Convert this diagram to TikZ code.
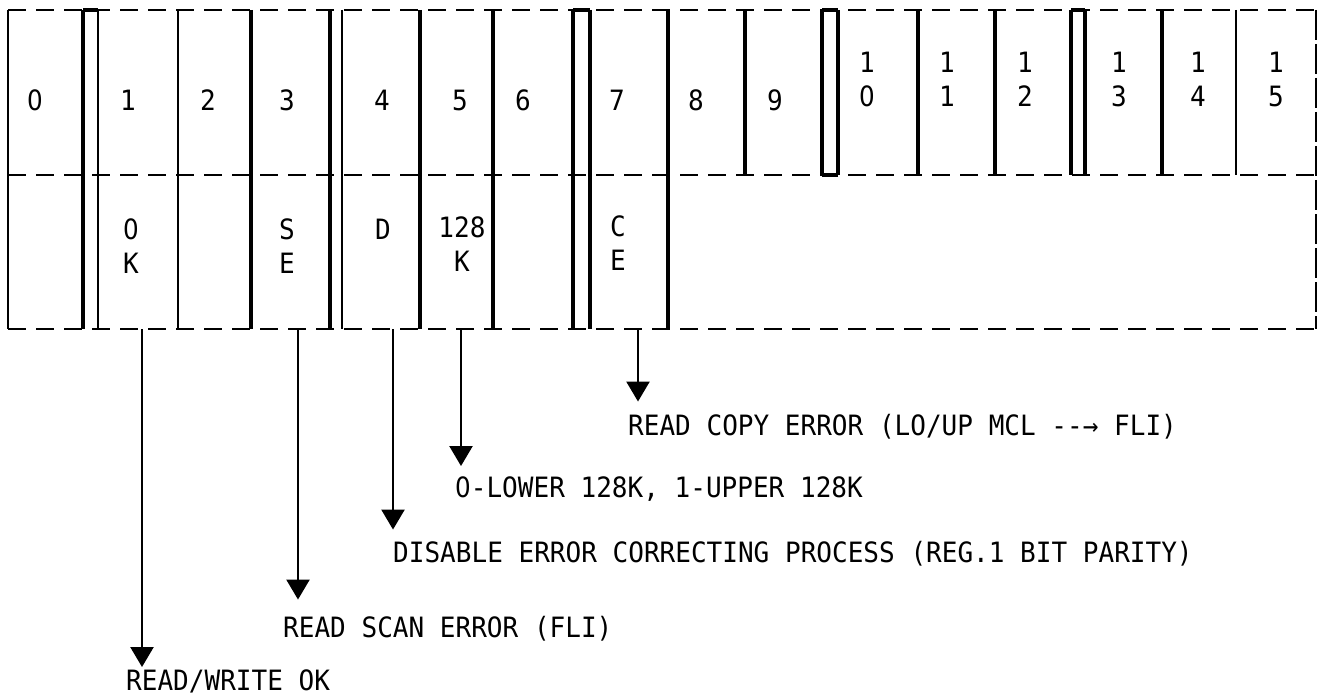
\documentclass[tikz,border=0pt]{standalone}
\usepackage{fontspec}
\newfontfamily\regfont[FakeStretch=0.93]{DejaVu Sans Mono}
\newfontfamily\zerofont[FakeStretch=0.88]{DejaVu Sans}
\newcommand\zro{{\zerofont 0}}
\usetikzlibrary{arrows.meta,positioning}

\begin{document}
\begin{tikzpicture}[x=1pt, y=-1pt,
    bitlbl/.style={font={\regfont\fontsize{28}{34}\selectfont}, inner sep=0pt, align=center},
    desc/.style={font={\regfont\fontsize{28}{34}\selectfont}, inner sep=0pt, anchor=base west},
    septhick/.style={line width=3.2pt},
    septhin/.style={line width=1.8pt},
    dashln/.style={line width=2.8pt, dash pattern=on 18pt off 10pt},
    bitarrow/.style={line width=2.4pt, -{Triangle[width=23pt,length=20pt]}}]
    \useasboundingbox (0,0) rectangle (1323,698);
    % register frame
    \draw[dashln] (8,10) -- (1316,10);
    \draw[dashln] (8,175) -- (1316,175);
    \draw[dashln] (8,329) -- (1316,329);
    \draw[septhin] (8,10) -- (8,329);
    \draw[septhin, dash pattern=on 30pt off 4pt] (1316,10) -- (1316,329);
    \foreach \x in {83,251,330,420,493,573,590,668}
        \draw[septhick] (\x,10) -- (\x,329);
    \foreach \x in {98,178,342}
        \draw[septhin] (\x,10) -- (\x,329);
    \foreach \x in {745,822,838,918,995,1071,1085,1162}
        \draw[septhick] (\x,10) -- (\x,175);
    \draw[septhin] (1236,10) -- (1236,175);
    \foreach \a/\b in {83/98,573/590,822/838,1071/1085}
        \draw[septhick] (\a,10) -- (\b,10);
    \draw[septhick] (822,175) -- (838,175);
    % bit numbers
    \node[bitlbl] (b0) at (35,100) {\zro};
    \foreach \x/\n in {128/1,208/2,287/3,382/4,460/5,523/6,617/7,696/8,775/9}
        \node[bitlbl] (b\n) at (\x,100) {\n};
    \foreach \x/\n/\d in {867/10/\zro,947/11/1,1025/12/2,1119/13/3,1198/14/4,1276/15/5}
        \node[bitlbl] (b\n) at (\x,79) {1\\\d};
    % flags
    \node[bitlbl] (ok) at (131,246) {\zro\\K};
    \node[bitlbl] (se) at (287,246) {S\\E};
    \node[bitlbl] (dis) at (383,229) {D};
    \node[bitlbl] (k128) at (462,244) {128\\K};
    \node[bitlbl] (ce) at (618,243) {C\\E};
    % meanings
    \node[desc] (copy) at (628,435) {READ COPY ERROR (LO/UP MCL -{}-→ FLI)};
    \node[desc] (lower) at (455,497) {\zro-LOWER 128K, 1-UPPER 128K};
    \node[desc] (disable) at (393,562) {DISABLE ERROR CORRECTING PROCESS (REG.1 BIT PARITY)};
    \node[desc] (scan) at (283,637) {READ SCAN ERROR (FLI)};
    \node[desc] (rw) at (126,690) {READ/WRITE OK};
    \coordinate (s1) at (142,329);
    \coordinate (s3) at (298,329);
    \coordinate (s4) at (393,329);
    \coordinate (s5) at (461,329);
    \coordinate (s7) at (638,329);
    \draw[bitarrow, shorten >=2pt] (s1) -- (s1 |- rw.north);
    \draw[bitarrow, shorten >=16pt] (s3) -- (s3 |- scan.north);
    \draw[bitarrow, shorten >=11pt] (s4) -- (s4 |- disable.north);
    \draw[bitarrow, shorten >=10pt] (s5) -- (s5 |- lower.north);
    \draw[bitarrow, shorten >=12pt] (s7) -- (s7 |- copy.north);
\end{tikzpicture}
\end{document}
